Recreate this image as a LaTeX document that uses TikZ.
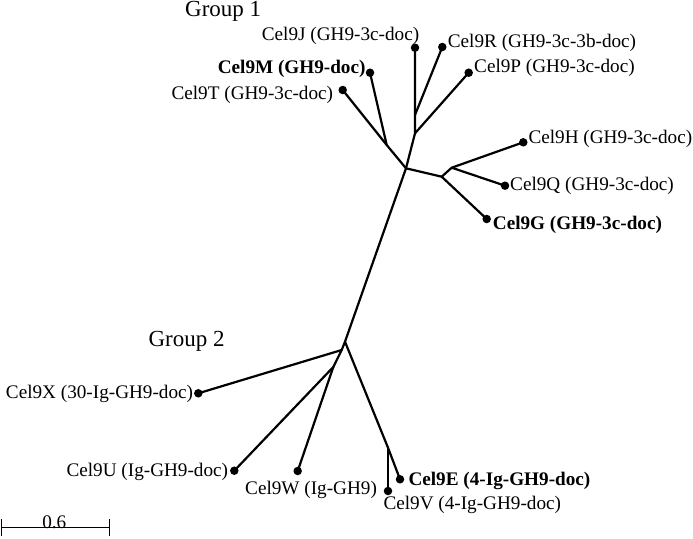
\documentclass[tikz,border=0pt]{standalone}
\usepackage{fontspec}
\setmainfont{Liberation Serif}
\begin{document}
\begin{tikzpicture}[x=1pt,y=-1pt,
  branch/.style={line width=2.2pt,line cap=round,line join=round},
  leaf/.style={circle,fill=black,inner sep=0pt,minimum size=8.5pt},
  lab/.style={inner sep=0pt,font=\fontsize{19.2}{23}\selectfont},
  blab/.style={lab,font=\fontsize{19.2}{23}\selectfont\bfseries},
  grp/.style={inner sep=0pt,font=\fontsize{23}{27}\selectfont}]
\useasboundingbox (0,0) rectangle (693,538);
% internal nodes
\coordinate (r1) at (406,168.3);
\coordinate (n1) at (386.7,145);
\coordinate (n2) at (415,133.3);
\coordinate (n3) at (415,115);
\coordinate (n4) at (441.7,176.7);
\coordinate (n5) at (451.7,167.7);
\coordinate (a) at (345,341.7);
\coordinate (b) at (341.7,350);
\coordinate (c) at (333.3,367);
\coordinate (d) at (388,447.7);
% leaves
\node[leaf] (J) at (415,47.7) {};
\node[leaf] (R) at (442.3,47) {};
\node[leaf] (M) at (370,72.7) {};
\node[leaf] (P) at (468.7,72.7) {};
\node[leaf] (T) at (342.7,90) {};
\node[leaf] (H) at (523.3,142.3) {};
\node[leaf] (Q) at (505,185.7) {};
\node[leaf] (G) at (486.7,219) {};
\node[leaf] (X) at (198.3,393.3) {};
\node[leaf] (U) at (234.3,470.7) {};
\node[leaf] (W) at (297.7,471) {};
\node[leaf] (E) at (400,479.3) {};
\node[leaf] (V) at (388,491) {};
% branches
\draw[branch] (J.center) -- (n3) -- (n2) -- (r1) -- (a);
\draw[branch] (R.center) -- (n3);
\draw[branch] (P.center) -- (n2);
\draw[branch] (T.center) -- (n1) -- (r1);
\draw[branch] (M.center) -- (n1);
\draw[branch] (r1) -- (n4) -- (G.center);
\draw[branch] (n4) -- (n5) -- (H.center);
\draw[branch] (n5) -- (Q.center);
\draw[branch] (a) -- (b) -- (X.center);
\draw[branch] (b) -- (c) -- (U.center);
\draw[branch] (c) -- (W.center);
\draw[branch] (a) -- (d) -- (E.center);
\draw[branch] (d) -- (V.center);
% labels
\node[grp,anchor=base west] (g1) at (185,16.7) {Group 1};
\node[grp,anchor=base west] (g2) at (148.3,346) {Group 2};
\node[lab,anchor=base west] (lJ) at (261.7,40.7) {Cel9J (GH9-3c-doc)};
\node[lab,anchor=base west] (lR) at (447.7,47.3) {Cel9R (GH9-3c-3b-doc)};
\node[blab,anchor=base east] (lM) at (365.7,73.5) {Cel9M (GH9-doc)};
\node[lab,anchor=base west] (lP) at (474,72.7) {Cel9P (GH9-3c-doc)};
\node[lab,anchor=base east] (lT) at (333.3,99) {Cel9T (GH9-3c-doc)};
\node[lab,anchor=base west] (lH) at (528.3,143) {Cel9H (GH9-3c-doc)};
\node[lab,anchor=base west] (lQ) at (510,190.7) {Cel9Q (GH9-3c-doc)};
\node[blab,anchor=base west] (lG) at (492.7,229) {Cel9G (GH9-3c-doc)};
\node[lab,anchor=base east] (lX) at (193.3,398) {Cel9X (30-Ig-GH9-doc)};
\node[lab,anchor=base east] (lU) at (228.3,476.7) {Cel9U (Ig-GH9-doc)};
\node[lab,anchor=base west] (lW) at (245,494) {Cel9W (Ig-GH9)};
\node[blab,anchor=base west] (lE) at (408.3,485) {Cel9E (4-Ig-GH9-doc)};
\node[lab,anchor=base west] (lV) at (383.3,509.3) {Cel9V (4-Ig-GH9-doc)};
% scale bar
\coordinate (s1) at (1.7,527.7);
\coordinate (s2) at (109.3,527.7);
\draw[line width=1.4pt] (s1) -- (s2);
\draw[line width=1.4pt] ([yshift=-8.4pt]s1) -- ([yshift=8.3pt]s1);
\draw[line width=1.4pt] ([yshift=-8.4pt]s2) -- ([yshift=8.3pt]s2);
\node[lab,anchor=base] (sl) at (54.3,528.3) {0.6};
\end{tikzpicture}
\end{document}
